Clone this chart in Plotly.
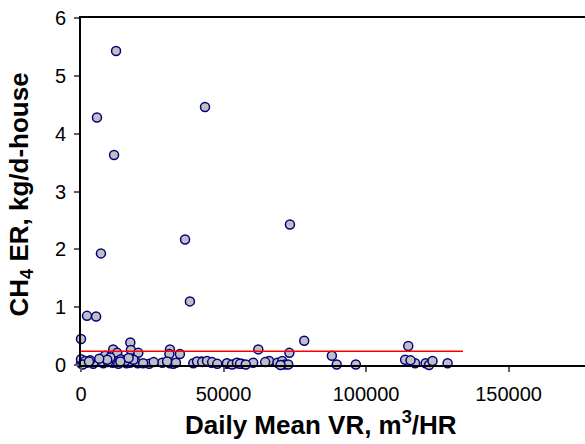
import plotly.graph_objects as go

# Daily mean ventilation rate (m3/HR) and CH4 emission rate (kg/d-house)
vr = [12300, 5600, 11600, 7000, 43500, 36500, 38200, 73300, 78300, 62200,
      2100, 5300, 0, 114800, 88000, 11300, 17300, 17500, 20100, 12700,
      8400, 31200, 31000, 34700, 73100, 0, 2000, 4300, 7800, 11100,
      13100, 14800, 16000, 17200, 19900, 23900, 28500, 31200, 32400, 39400,
      42300, 45800, 51100, 54600, 56400, 60400, 66000, 68900, 70600, 71600,
      72700, 89700, 96400, 113700, 117200, 120900, 122100, 123300, 128600, 0,
      1500, 3200, 9500, 10300, 14000, 15500, 18400, 40700, 42500, 44200,
      46000, 51200, 53000, 54700, 55800, 9200, 16700, 25500, 30200, 33300,
      600, 6400, 13800, 21800, 47800, 57800, 64600, 70000, 115600, 2800]
er = [5.43, 4.28, 3.63, 1.93, 4.46, 2.17, 1.10, 2.43, 0.42, 0.27,
      0.85, 0.84, 0.45, 0.33, 0.16, 0.27, 0.39, 0.26, 0.21, 0.21,
      0.16, 0.27, 0.19, 0.19, 0.21, 0.03, 0.04, 0.02, 0.03, 0.04,
      0.02, 0.05, 0.03, 0.04, 0.03, 0.02, 0.04, 0.03, 0.02, 0.03,
      0.06, 0.04, 0.02, 0.03, 0.02, 0.04, 0.07, 0.04, 0.07, 0.01,
      0.01, 0.01, 0.01, 0.09, 0.03, 0.03, 0.00, 0.07, 0.03, 0.10,
      0.07, 0.08, 0.05, 0.13, 0.10, 0.07, 0.09, 0.06, 0.05, 0.07,
      0.05, 0.03, 0.01, 0.04, 0.02, 0.09, 0.12, 0.05, 0.06, 0.04,
      0.01, 0.11, 0.06, 0.03, 0.02, 0.01, 0.05, 0.00, 0.08, 0.06]

# Mean emission rate reference line
mean_x = [0, 134000]
mean_y = [0.237, 0.237]

x_ticks = [0, 50000, 100000, 150000]
y_ticks = [0, 1, 2, 3, 4, 5, 6]

fig = go.Figure()
fig.add_trace(go.Scatter(
    x=vr, y=er, mode="markers",
    marker=dict(size=9, color="#c0c0c0", line=dict(color="#000080", width=1.5)),
    showlegend=False, cliponaxis=False))
fig.add_trace(go.Scatter(
    x=mean_x, y=mean_y, mode="lines",
    line=dict(color="#ff0000", width=1.5), showlegend=False))

font_family = "Liberation Sans, Arial, sans-serif"
fig.update_layout(
    width=585, height=444,
    margin=dict(l=81, r=0, t=18, b=79),
    paper_bgcolor="white", plot_bgcolor="white",
    font=dict(family=font_family, color="black", size=20),
    xaxis=dict(range=[0, 176800], tickvals=x_ticks, ticktext=[str(v) for v in x_ticks],
               showgrid=False, zeroline=False, showline=True, linecolor="black",
               linewidth=2, mirror=True, ticks="outside", ticklen=5, tickwidth=1.5,
               tickcolor="#606060", tickfont=dict(size=20), ticklabelstandoff=5),
    yaxis=dict(range=[0, 6], tickvals=y_ticks, showgrid=False, zeroline=False,
               showline=True, linecolor="black", linewidth=2, ticks="outside",
               ticklen=5, tickwidth=1.5, tickcolor="#606060", tickfont=dict(size=20),
               ticklabelstandoff=4),
    annotations=[
        dict(text="<b>Daily Mean VR, m<sup>3</sup>/HR</b>", xref="paper", yref="paper",
             x=(321 - 81) / 504, y=-0.17, xanchor="center", yanchor="middle",
             showarrow=False, font=dict(size=26)),
        dict(text="<b>CH<sub>4</sub> ER, kg/d-house</b>", xref="paper", yref="paper",
             x=-0.12, y=0.49, xanchor="center", yanchor="middle", textangle=-90,
             showarrow=False, font=dict(size=26)),
    ],
)
fig.write_html("out.html")
